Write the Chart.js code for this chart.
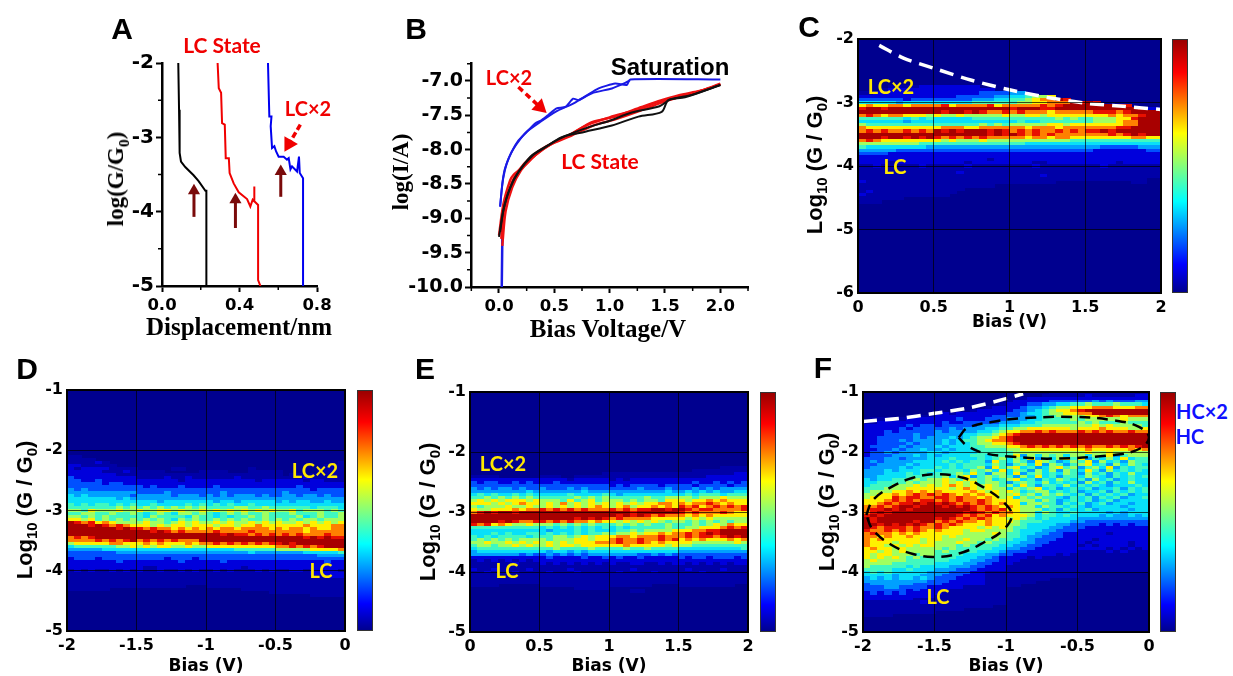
<!DOCTYPE html>
<html>
<head>
<meta charset="utf-8">
<title>Conductance panels</title>
<script src="https://cdn.jsdelivr.net/npm/chart.js@4"></script>
<style>
  html, body { margin: 0; padding: 0; background: #fff; overflow: hidden; }
  #page { position: relative; width: 1233px; height: 676px; overflow: hidden; }
  canvas { position: absolute; }
  .note { position: absolute; white-space: nowrap; line-height: 1; transform: translate(-50%, -50%); }
  .note sub { font-size: 0.68em; line-height: 0; }
  .bar { position: absolute; box-sizing: border-box; border: 1px solid #333;
         background: linear-gradient(to top, #00008f 0%, #0000ff 11%, #00ffff 36%, #ffff00 63%, #ff0000 87%, #9a0000 100%); }
</style>
</head>
<body>
<div id="page"></div>
<script>
// panel A, traces of log(G/G0) against displacement
const aBlackX = [0.084, 0.088, 0.091, 0.098, 0.12, 0.163, 0.189, 0.224, 0.229, 0.229];
const aBlackY = [-2, -2.63, -3.21, -3.325, -3.4, -3.51, -3.59, -3.72, -3.72, -5];
const aRedX = [0.287, 0.293, 0.305, 0.31, 0.324, 0.329, 0.345, 0.349, 0.37, 0.396, 0.439, 0.456, 0.468, 0.475, 0.475, 0.478, 0.496, 0.496, 0.508];
const aRedY = [-2, -2.34, -2.4, -2.81, -2.83, -3.28, -3.28, -3.48, -3.62, -3.74, -3.83, -3.93, -3.84, -3.86, -3.66, -3.86, -3.91, -4.92, -5];
const aBlueX = [0.547, 0.554, 0.565, 0.561, 0.568, 0.58, 0.589, 0.602, 0.628, 0.645, 0.654, 0.663, 0.671, 0.697, 0.707, 0.711, 0.728, 0.728];
const aBlueY = [-2, -2.72, -2.72, -2.85, -3.145, -3.12, -3.19, -3.26, -3.26, -3.3, -3.28, -3.43, -3.39, -3.46, -3.26, -3.48, -3.55, -5];
const aTicksX = [0, 0.4, 0.8];
const aTicksY = [-5, -4, -3, -2];

// panel B, I-V traces
const bBlue1X = [0.01, 0.025, 0.04, 0.07, 0.115, 0.17, 0.235, 0.326, 0.386, 0.45, 0.52, 0.6, 0.67, 0.72, 0.9, 1.05, 1.155, 1.185, 2];
const bBlue1Y = [-8.83, -8.58, -8.4, -8.2, -8.03, -7.88, -7.77, -7.62, -7.57, -7.49, -7.4, -7.38, -7.26, -7.28, -7.11, -7.04, -7.06, -6.98, -6.98];
const bBlue2X = [0.01, 0.03, 0.05, 0.09, 0.13, 0.19, 0.25, 0.37, 0.51, 0.67, 0.84, 1.02, 1.14, 1.185];
const bBlue2Y = [-8.83, -8.5, -8.3, -8.12, -7.99, -7.85, -7.74, -7.6, -7.45, -7.33, -7.18, -7.11, -7.03, -6.99];
const bBlue3X = [0.025, 0.03, 0.04];
const bBlue3Y = [-10, -9.3, -9.0];
const bBlack1X = [0, 0.04, 0.1, 0.175, 0.295, 0.416, 0.567, 0.78, 1.02, 1.26, 1.47, 1.53, 1.68, 2];
const bBlack1Y = [-9.27, -8.88, -8.56, -8.33, -8.1, -7.97, -7.82, -7.74, -7.65, -7.52, -7.45, -7.28, -7.24, -7.06];
const bBlack2X = [0.01, 0.05, 0.12, 0.2, 0.3, 0.45, 0.6, 0.8, 1.0, 1.2, 1.45, 1.55, 1.75, 2];
const bBlack2Y = [-9.2, -8.8, -8.48, -8.27, -8.08, -7.93, -7.8, -7.68, -7.58, -7.46, -7.37, -7.27, -7.2, -7.06];
const bRed1X = [0, 0.04, 0.1, 0.13, 0.235, 0.33, 0.48, 0.66, 0.84, 1.05, 1.29, 1.47, 1.62, 1.83, 2];
const bRed1Y = [-9.25, -8.79, -8.45, -8.37, -8.23, -8.08, -7.91, -7.77, -7.6, -7.52, -7.38, -7.28, -7.21, -7.14, -7.05];
const bRed2X = [0.03, 0.06, 0.12, 0.2, 0.3, 0.45, 0.65, 0.85, 1.05, 1.3, 1.5, 1.7, 1.9, 2];
const bRed2Y = [-9.4, -8.9, -8.55, -8.3, -8.12, -7.94, -7.8, -7.65, -7.56, -7.42, -7.3, -7.2, -7.11, -7.05];
const bRed3X = [0.02, 0.05, 0.11, 0.18, 0.28, 0.42, 0.6, 0.8, 1.0, 1.25, 1.45, 1.65, 1.85, 2];
const bRed3Y = [-9.3, -8.85, -8.5, -8.3, -8.12, -7.96, -7.82, -7.64, -7.53, -7.42, -7.3, -7.23, -7.13, -7.04];
const bTicksX = [0, 0.5, 1, 1.5, 2];
const bMinorX = [-0.25, 0.25, 0.75, 1.25, 1.75, 2.25];
const bTicksY = [-10, -9.5, -9, -8.5, -8, -7.5, -7];
const bMinorY = [-9.75, -9.25, -8.75, -8.25, -7.75, -7.25, -6.75];

// limit lines and circled regions on the maps
const cLimitX = [0.14, 0.3, 0.5, 0.75, 1, 1.25, 1.5, 1.75, 2];
const cLimitY = [-2.1, -2.3, -2.46, -2.65, -2.8, -2.92, -3.01, -3.06, -3.11];
const fLimitX = [-2, -1.75, -1.51, -1.25, -1, -0.88];
const fLimitY = [-1.49, -1.44, -1.36, -1.26, -1.11, -1.03];
const fLowX = [-1.977, -1.93, -1.8, -1.65, -1.49, -1.3, -1.15, -1.02, -0.96, -1.02, -1.15, -1.3, -1.49, -1.65, -1.8, -1.93, -1.977];
const fLowY = [-3.05, -2.8, -2.58, -2.43, -2.37, -2.43, -2.6, -2.83, -3.05, -3.3, -3.5, -3.67, -3.75, -3.7, -3.55, -3.3, -3.05];
const fHighX = [-1.331, -1.27, -1.1, -0.9, -0.53, -0.25, -0.07, 0, -0.07, -0.25, -0.67, -0.95, -1.15, -1.27, -1.331];
const fHighY = [-1.76, -1.6, -1.5, -1.44, -1.415, -1.47, -1.58, -1.76, -1.95, -2.05, -2.11, -2.08, -2.02, -1.9, -1.76];

// map rows, read by eye: each row is 0.05 decades, each column 0.05 V
const levels = { "0": null, ".": "#0000a8", "1": "#0000dc", "2": "#0050ff", "3": "#00a0ff", "4": "#08e0f8",
  "5": "#40f8c0", "6": "#a0ff60", "7": "#fff000", "8": "#ff8000", "r": "#e81000", "9": "#a80000" };

const cTop = -2.75;
const cRows = [
"0000....11 1111110000 0000000000 0000000000",
"000.111111 1111111100 0000000000 0000000000",
"..11111111 1111112222 3300000000 0000000000",
"1111111111 1112222233 4456670000 0000000000",
"2222221222 2222233344 5567889r00 0000000000",
"4444434444 4444455555 566778889r 9r00000000",
"7877887888 8r78888r78 8888r8r999 9999rr0000",
"r99r999999 9999999999 r999rr9999 9999999r11",
"9999999999 9r99r9r88r 8r88878888 8rrr8r9999",
"8r87887776 7667666667 6677677777 7778788r99",
"5555554545 4444455555 5555556565 566677r999",
"4444443444 4444444444 4544555555 5666788999",
"6555555555 5555556565 6666677677 7777788999",
"8777777777 7888778888 8878887888 8888rr9999",
"8r8r88r8r8 9r9r999r9r 8r8r88r8r8 rr9r999999",
"9999999999 9999999r9r 9r8r8r8888 888r8r9r99",
"999r99r9r9 r8r8r8r888 8878878877 7777778877",
"8r87777777 7676667666 6666666655 5555555555",
"6666666655 5555555555 5544444444 4444444444",
"5444444443 3333333333 3333333333 3322222333",
"3333322222 2222222222 2222222222 2111111122",
"2222111111 1111111111 1111111111 1111111111",
"1111111111 1111111111 1111111111 1111111111",
"1111111111 1111111.11 1111111111 1111111111",
"1111.11111 1111.11111 111..11111 1111.11111",
"..1.....1. ....1..... ...1...... ..1.......",
".......... .......... .......... ..........",
".......... ...1...... .......... ..........",
".......... .......... ....1..... ..........",
".......... .......... .......... ........00",
"1......... .......... ......0000 000000..00",
".......... ........00 0000000000 0000000000",
".......... ....000000 0000000000 0000000000",
".1........ ...0000000 0000000000 0000000000",
"1......... ..00000000 0000000000 0000000000",
"......0000 0000000000 0000000000 0000000000",
"...0000000 0000000000 0000000000 0000000000"
];

const dTop = -2.1;
const dRows = [
"..00000000 0000000000 0000000000 0000000000",
"....000000 0000000000 0000000000 0000000000",
"....1.0000 0000000000 0000000000 000000000.",
"11.....000 0000000000 0000000000 0000000...",
"1.1111.... 00000..000 000000.000 000000....",
"11111...1. ....00000. ...000.... .00000....",
"1111111... .......... .......... .0..0.....",
"2111111111 ....1..1.. ....1..... ....1.....",
"2211211111 111111.111 1111111.11 1111.11...",
"2222212211 1111111111 1111111111 1111111111",
"2222222222 2121112111 1211111111 1112111111",
"3232222222 2222222222 2222222222 2222212222",
"3333333333 2222322222 2232222222 2322222222",
"4343333332 3333323332 3232333232 2332332322",
"4444444343 3333333333 3333333333 3333333333",
"4444444444 4443444444 4344344444 3434433433",
"5454554545 4454444545 4545445444 4444444444",
"5555555656 5656565656 5555665565 5555545554",
"6657666766 7667767667 6767676767 6675666565",
"5566556556 5456546656 5456565565 5565556556",
"6656565555 5465555465 5454556565 5556456556",
"7767565656 5656546565 5656565565 6565665666",
"9r8r787666 6766567676 6767667676 7667676767",
"999r9r8r87 7767677677 7677677877 7777877788",
"9999999r9r r8r8878787 8788788887 8788787788",
"9999999999 99r9r8r888 8r8888r888 8888788888",
"9999999999 9999999999 99r9rr8r8r 8r8r888r88",
"8r8r999999 9999999999 9999999999 9999r9r9rr",
"8888r8r8r9 8r8r8r8889 9999999999 9999999999",
"6777778877 7878777878 8r8r8r8r8r r9r9999999",
"4555555667 6767766766 7777777777 88r8r8r999",
"3333344444 4444444444 4444555555 6666677778",
"2222222333 3333333333 3333334333 3333444445",
"2222222222 2222222222 2222222222 2222223333",
"1222122222 2222122212 2222222222 2222222222",
"1111111211 1111112111 1121111111 1111111211",
"1111111111 1111111111 1111111111 1111111111",
"1111111111 1..1111111 11111.1111 1111111111",
".1.1..1.1. 1..1..1.1. .1.1...1.1 ..11.1111.",
".......... .......... .......... .....11111",
".......... .......... .......... .......111",
".......... .......... .......... ..........",
".......... .......... .......... ..........",
".......... .......000 .......... ..........",
"......0000 0000000000 00000..... ..........",
"0000000000 0000000000 000000000. ..........",
"0000000000 0000000000 0000000000 00000....."
];

const eTop = -2.25;
const eRows = [
"0000000000 0000000000 0000000000 000000....",
"0000000000 0000000000 0000000000 00........",
"0000000000 000000000. .......... ........11",
"....000000 ...00..... .......... ....111111",
"1111111111 1111.11111 .1.1111111 1111111111",
"2122112121 1121111111 1111111111 1121121212",
"2222222222 2222222222 1212222122 2212222122",
"3232332322 3222323222 2222322232 2232323333",
"3333333343 3333334333 3333333343 3434343344",
"4545445454 4444544445 4344444444 4545554555",
"5565656565 5555565656 5555565566 6656667666",
"6767677767 6665756756 6656566577 7677878777",
"7776767877 6768676767 6767677887 8788r87877",
"6566676676 6767676787 6786778787 r8r78r8r8r",
"7667778788 r8r8r8r888 r8r8rr99r9 9r8rr8888r",
"8r9r99r999 9999999999 999r999999 r8r888r877",
"9999999999 9999999999 9r9r9r8r88 8787877777",
"9999999999 99999r9r9r 8r88887777 7676766666",
"9999r9r88r r8r8r88787 7676767656 6565656566",
"r8r7876676 6656565655 5656565565 5565676877",
"5555555555 4545454545 4545555565 5667778r8r",
"4444444444 4344454544 4556566667 7788rr9999",
"4445454455 4545454556 5667677878 8r8r9r9999",
"5454555545 5566567677 7887888r88 8r8rr8r9r9",
"5656565666 6566677677 8r88r88r8r 7878777878",
"6676676767 6767677788 8r88r87877 7766666676",
"5665667676 6767767777 7787777767 6655555555",
"4555555555 5565555655 5565565555 4444444445",
"3444444444 4344343444 4444444444 3333333333",
"3333333232 2323232333 3333223232 2222222222",
"1111111111 1211112112 1211211111 2122122212",
".1.1.1.1.1 1111111111 1111111111 1111111111",
"......1... 1.1.1.1.1. 1..11..1.1 1.1.1.1.11",
".......... .......... .......... ..........",
"1..1....1. ....1..... ...1...... .1....1...",
"..1...1... .1...1.... .1....1... ...1......",
".......... .......... .......... ..........",
".......... .......... .......... ..........",
".......... .......... .......... ..........",
"....000000 .......... ......0000 ........00",
"0000000000 00000..... 0000000000 0000000000",
"0000000000 0000000000 000..00000 0000000000"
];

const fTop = -1.0;
const fRows = [
"0000000000 0000000000 000000.... ..........",
"0000000000 0000000000 00000..... .1......11",
"0000000000 0000000000 00.1111111 1111111111",
"0000000000 0000000000 .111112222 2232322233",
"0000000000 000000000. 1112233445 5655565554",
"0000000000 0000000.11 1123345667 7788877788",
"0000000000 00000.1111 1223456778 r999999999",
"0000000000 .1.1111111 2234456677 8899999999",
"000000.... 1111111122 2233455666 6778r87888",
"0.....1111 1112111222 3334455556 5666667666",
"..11111111 1211222223 3344555555 6565556555",
"1111112122 1222223334 4455566666 6676766665",
"1111121222 2232333445 5667777776 7778777667",
"1112122222 3233334456 7788r8r888 r8r8r88r88",
"1112222322 3333445567 8r99999999 9999999999",
"1122222323 3343456678 r999999999 9999999999",
"1122232333 3434556788 r999999999 9999999999",
"1122223233 3434456677 8r99999999 9999999999",
"1222232333 4344455666 778r8r8r8r 8r88r8r8r9",
"1122323343 3434445555 6677777777 7877777878",
"1223233334 4344445555 5666666666 6766766666",
"1222333434 3444455455 5736465646 6466735666",
"2223323334 4454445456 4647354675 7354647455",
"2323333444 4545455375 4653765346 5736453655",
"2233334344 4454555465 3564736535 6745364654",
"2333343444 5454556375 6745346756 3564735455",
"3334344455 4555465647 4653646365 4753645454",
"3334445454 5556575366 4735645465 3645354644",
"3344445555 5646735656 5364745355 4654354545",
"4344555656 6765765645 6745354654 5364534544",
"4455556566 6767675665 3565464545 3645354644",
"4555666767 6787676765 6475355464 5454344454",
"5556667777 7767876766 4656745345 4534453545",
"5666778787 8777787676 7645664545 3445354545",
"6677878r8r 8r87878776 6756465654 5354545344",
"6777r8rr88 rr8r887876 7465655435 4535453445",
"7778r8r8rr 8r8r88r877 7766465345 4534534444",
"778r8rr9r9 r9r8r8r878 7746655354 5345344344",
"88r8r99r99 9r9r9r8r87 8766465545 4344443444",
"8rr9r9r999 99999r8r8r 7766645354 4534444344",
"8r9r999999 9999r9r8r8 8766465445 4444343444",
"r9r9999999 999r8r8r78 7776455454 4443433434",
"9r99999999 r9r8r8r877 6765454444 3333333333",
"9r99999r99 8r8r887877 7655544443 3222222222",
"99r9r9r9r8 r8r8777877 6654444332 2221212122",
"9r8rrr8r88 r877776767 6554443322 2111111111",
"r88r8r8r87 8777677666 6544433222 1111111111",
"8r88787877 7777666676 5544332211 1111.11111",
"8878778777 7676666666 5543322211 1111111111",
"8787777767 7666766565 5443222111 11.1111111",
"8777677767 6667665655 4433221111 1.11111.11",
"8776767677 6665655554 4332211111 .1.1111.11",
"7877676666 6565555544 3322111111 1111.1.1.1",
"7767676666 5655554443 2221111111 ....1.1...",
"7677666566 5555444332 2111111.1. ..........",
"7676765655 5554443321 111.1..... ..........",
"6766665555 5544433221 11........ ..........",
"6666555555 4444332211 1......... ..........",
"6555554544 4433322111 .......... ..........",
"5555445444 3332221111 .......... ..........",
"4545444443 3322211... .......... 0000000000",
"4444344433 3222111... .......... 0000000000",
"3434344343 2221111... ......0000 0000000000",
"3333333332 2211111... ....000000 0000000000",
"2333333222 2111111... ..00000000 0000000000",
"2223322221 1111...... 0000000000 0000000000",
"2222221211 11........ 0000000000 0000000000",
"1212121111 1......... 0000000000 0000000000",
"1111111111 .......... 0000000000 0000000000",
"1111111... .......... 0000000000 0000000000",
"........1. .......... 0000000000 0000000000",
".......... ........00 0000000000 0000000000",
".......... ....000000 0000000000 0000000000",
".......... 0000000000 0000000000 0000000000",
"....000000 0000000000 0000000000 0000000000"
];

const posBias = [0, 0.5, 1, 1.5, 2];
const negBias = [-2, -1.5, -1, -0.5, 0];
const logRangeC = [-6, -5, -4, -3, -2];
const logRangeDEF = [-5, -4, -3, -2, -1];

const tickFamily = '"DejaVu Sans", sans-serif';
Chart.defaults.font.family = tickFamily;
const page = document.getElementById("page");
const ML = 70, MT = 24, MR = 24, MB = 52;

function pairs(xs, ys) {
  return xs.map(function (x, i) { return { x: x, y: ys[i] }; });
}

function trace(xs, ys, color, width, tension) {
  return { data: pairs(xs, ys), showLine: true, borderColor: color, borderWidth: width, pointRadius: 0, tension: tension || 0 };
}

function arrow(xs, ys, color, size, angle, dash, width) {
  return {
    data: pairs(xs, ys), showLine: true, borderColor: color, backgroundColor: color, borderWidth: width || 3,
    borderDash: dash || [], pointStyle: "triangle", pointBorderWidth: 0,
    pointRadius: [0, size], pointRotation: [0, angle]
  };
}

function addNote(html, x, y, font, color, turned) {
  const el = document.createElement("div");
  el.className = "note";
  el.innerHTML = html;
  el.style.left = x + "px";
  el.style.top = y + "px";
  el.style.font = font;
  el.style.color = color;
  if (turned) el.style.transform = "translate(-50%, -50%) rotate(-90deg)";
  page.appendChild(el);
}

function addCanvas(box) {
  const c = document.createElement("canvas");
  c.width = box.r - box.l + ML + MR;
  c.height = box.b - box.t + MT + MB;
  c.style.left = (box.l - ML) + "px";
  c.style.top = (box.t - MT) + "px";
  page.appendChild(c);
  return c;
}

function xTitle(text, font, below) {
  const lineHeight = font.size * 1.2;
  return { display: true, text: text, color: "#000", font: font,
    padding: { top: 0, bottom: MB - below - lineHeight / 2 } };
}

// small ticks between the labelled ones, placed through the scales
const minorTicks = {
  id: "minorTicks",
  afterDraw: function (chart, args, opts) {
    const c = chart.ctx, a = chart.chartArea;
    c.save();
    c.strokeStyle = "#000";
    c.lineWidth = 1.5;
    c.beginPath();
    (opts.x || []).forEach(function (v) {
      const p = chart.scales.x.getPixelForValue(v);
      c.moveTo(p, a.bottom);
      c.lineTo(p, a.bottom + 4);
    });
    (opts.y || []).forEach(function (v) {
      const p = chart.scales.y.getPixelForValue(v);
      c.moveTo(a.left, p);
      c.lineTo(a.left - 4, p);
    });
    c.stroke();
    c.restore();
  }
};

function lineChart(box, o) {
  const axis = function (min, max, ticks, pad, size, fmt, afterFit) {
    return {
      type: "linear", min: min, max: max,
      afterBuildTicks: function (s) { s.ticks = ticks.map(function (v) { return { value: v }; }); },
      afterFit: afterFit,
      border: { color: "#000", width: 2.5 },
      grid: { drawOnChartArea: false, tickLength: 6, tickWidth: 2, tickColor: "#000" },
      ticks: { autoSkip: false, maxRotation: 0, padding: pad, color: "#000", callback: fmt,
        font: { size: size, weight: "bold" } }
    };
  };
  const xAxis = axis(o.xMin, o.xMax, o.xTicks, 4, 16.5, function (v) { return v.toFixed(1); }, function (s) { s.height = MB; });
  const yAxis = axis(o.yMin, o.yMax, o.yTicks, 2, o.ySize, o.fmt, function (s) { s.width = ML; });
  return new Chart(addCanvas(box), {
    type: "scatter",
    data: { datasets: o.datasets },
    plugins: [minorTicks],
    options: {
      responsive: false, animation: false,
      layout: { padding: { top: MT, right: MR } },
      plugins: { legend: { display: false }, tooltip: { enabled: false }, minorTicks: { x: o.xMinor, y: o.yMinor } },
      scales: { x: xAxis, y: yAxis }
    }
  });
}

// map cells: positions come from the x and y scales, 1px overlap hides seams
const heatCells = {
  id: "heatCells",
  beforeDatasetsDraw: function (chart) {
    const c = chart.ctx, sx = chart.scales.x, sy = chart.scales.y, a = chart.chartArea;
    c.fillStyle = "#00008f";
    c.fillRect(a.left, a.top, a.width, a.height);
    c.save();
    c.beginPath();
    c.rect(a.left, a.top, a.width, a.height);
    c.clip();
    chart.data.datasets[0].data.forEach(function (d) {
      const xa = Math.round(sx.getPixelForValue(d.x)), xb = Math.round(sx.getPixelForValue(d.x + 0.05));
      const ya = Math.round(sy.getPixelForValue(d.y + 0.025)), yb = Math.round(sy.getPixelForValue(d.y - 0.025));
      c.fillStyle = levels[d.k];
      c.fillRect(xa, ya, xb - xa + 1, yb - ya + 1);
    });
    c.restore();
  },
  afterDraw: function (chart) {
    const c = chart.ctx, a = chart.chartArea;
    c.save();
    c.strokeStyle = "#000";
    c.lineWidth = 2;
    c.strokeRect(a.left, a.top, a.width, a.height);
    c.restore();
  }
};

function cellsFrom(rows, xStart, top) {
  const out = [];
  rows.forEach(function (row, r) {
    row.replace(/ /g, "").split("").forEach(function (k, col) {
      if (levels[k]) out.push({ x: xStart + col * 0.05, y: top - r * 0.05, k: k });
    });
  });
  return out;
}

function heatChart(box, o) {
  const label = { color: "#000", font: { size: 16, weight: "bold" } };
  const grid = { color: "rgba(0,0,0,0.7)", lineWidth: 1, z: 1, drawTicks: false };
  const setTicks = function (list) {
    return function (s) { s.ticks = list.map(function (v) { return { value: v }; }); };
  };
  const sets = [{ data: cellsFrom(o.rows, o.xTicks[0], o.top), pointRadius: 0 }].concat(o.lines || []);
  new Chart(addCanvas(box), {
    type: "scatter",
    data: { datasets: sets },
    plugins: [heatCells],
    options: {
      responsive: false, animation: false,
      layout: { padding: { top: MT, right: MR } },
      plugins: { legend: { display: false }, tooltip: { enabled: false } },
      scales: {
        x: {
          type: "linear", min: o.xTicks[0], max: o.xTicks[4], afterBuildTicks: setTicks(o.xTicks),
          afterFit: function (s) { s.height = MB; },
          grid: grid, border: { display: false },
          ticks: Object.assign({ autoSkip: false, maxRotation: 0, padding: 5, callback: String }, label),
          title: xTitle("Bias (V)", { size: 17, weight: "bold" }, o.below)
        },
        y: {
          type: "linear", min: o.yTicks[0], max: o.yTicks[4], afterBuildTicks: setTicks(o.yTicks),
          afterFit: function (s) { s.width = ML; },
          grid: grid, border: { display: false },
          ticks: Object.assign({ autoSkip: false, padding: 4, callback: String }, label)
        }
      }
    }
  });
  const bar = document.createElement("div");
  bar.className = "bar";
  bar.style.left = o.barX + "px";
  bar.style.top = box.t + "px";
  bar.style.width = "16px";
  bar.style.height = (box.b - box.t) + "px";
  page.appendChild(bar);
}

function whiteDash(xs, ys) {
  return Object.assign(trace(xs, ys, "#fff", 3.5), { borderDash: [14, 8], tension: 0.3 });
}

function blackDash(xs, ys) {
  return Object.assign(trace(xs, ys, "#000", 2.5), { borderDash: [11, 7], tension: 0.4 });
}

lineChart({ l: 162, t: 63, r: 317, b: 286 }, {
  xMin: 0, xMax: 0.8, yMin: -5, yMax: -2, xTicks: aTicksX, yTicks: aTicksY,
  xMinor: [0.2, 0.6], yMinor: [-4.5, -3.5, -2.5], ySize: 20,
  fmt: String,
  datasets: [
    trace(aBlackX, aBlackY, "#000", 2),
    trace(aRedX, aRedY, "#f00000", 2),
    trace(aBlueX, aBlueY, "#0000f0", 2),
    arrow([0.165, 0.165], [-4.07, -3.72], "#7a0a0a", 7, 0),
    arrow([0.379, 0.379], [-4.22, -3.84], "#7a0a0a", 7, 0),
    arrow([0.613, 0.613], [-3.8, -3.46], "#7a0a0a", 7, 0),
    arrow([0.714, 0.655], [-2.83, -3.09], "#f00000", 9, 210, [6, 3], 3.5)
  ]
});

lineChart({ l: 471, t: 63, r: 748, b: 287 }, {
  xMin: -0.253, xMax: 2.25, yMin: -10, yMax: -6.74, xTicks: bTicksX, yTicks: bTicksY,
  xMinor: bMinorX, yMinor: bMinorY, ySize: 19,
  fmt: function (v) { return v.toFixed(1); },
  datasets: [
    trace(bBlack1X, bBlack1Y, "#111", 2, 0.3),
    trace(bBlack2X, bBlack2Y, "#111", 2, 0.3),
    trace(bRed1X, bRed1Y, "#ee1111", 2.4, 0.3),
    trace(bRed2X, bRed2Y, "#ee1111", 2.4, 0.3),
    trace(bRed3X, bRed3Y, "#ee1111", 2.4, 0.3),
    trace(bBlue1X, bBlue1Y, "#1a1ae6", 2, 0.2),
    trace(bBlue2X, bBlue2Y, "#1a1ae6", 2, 0.2),
    trace(bBlue3X, bBlue3Y, "#1a1ae6", 2.5),
    arrow([0.175, 0.37], [-7.09, -7.38], "#f00000", 9, 132, [6, 4], 3.5)
  ]
});

heatChart({ l: 858, t: 39, r: 1161, b: 293 }, {
  rows: cRows, top: cTop, xTicks: posBias, yTicks: logRangeC, below: 30, barX: 1172,
  lines: [whiteDash(cLimitX, cLimitY)]
});
heatChart({ l: 67, t: 390, r: 345, b: 631 }, {
  rows: dRows, top: dTop, xTicks: negBias, yTicks: logRangeDEF, below: 36, barX: 357
});
heatChart({ l: 470, t: 392, r: 748, b: 632 }, {
  rows: eRows, top: eTop, xTicks: posBias, yTicks: logRangeDEF, below: 35, barX: 760
});
heatChart({ l: 863, t: 392, r: 1149, b: 632 }, {
  rows: fRows, top: fTop, xTicks: negBias, yTicks: logRangeDEF, below: 35, barX: 1160,
  lines: [whiteDash(fLimitX, fLimitY), blackDash(fLowX, fLowY), blackDash(fHighX, fHighY)]
});

const sans = '"Liberation Sans", Arial, sans-serif';
const serif = '"Liberation Serif", serif';
const lato = 'Lato, sans-serif';

[["A", 122, 29], ["B", 416, 29], ["C", 809, 27], ["D", 27, 369], ["E", 425, 369], ["F", 823, 368]].forEach(function (p) {
  addNote(p[0], p[1], p[2], "bold 30px " + sans, "#000");
});

addNote("log(G/G<sub>0</sub>)", 116, 179, "bold 23px " + serif, "#000", true);
addNote("log(I/A)", 401, 172, "bold 23px " + serif, "#000", true);
addNote("Displacement/nm", 239, 327, "bold 25px " + serif, "#000");
addNote("Bias Voltage/V", 608, 329, "bold 25px " + serif, "#000");
const logTitle = "Log<sub>10</sub> (G / G<sub>0</sub>)";
addNote(logTitle, 815, 165, "bold 22px " + sans, "#000", true);
addNote(logTitle, 25, 510, "bold 22px " + sans, "#000", true);
addNote(logTitle, 428, 512, "bold 22px " + sans, "#000", true);
addNote(logTitle, 827, 502, "bold 22px " + sans, "#000", true);

addNote("LC State", 222, 44, "bold 21px " + lato, "#f00000");
addNote("LC×2", 308, 108, "bold 20px " + lato, "#f00000");
addNote("Saturation", 670, 67, "bold 24px " + sans, "#000");
addNote("LC×2", 509, 77, "bold 20px " + lato, "#f00000");
addNote("LC State", 600, 160, "bold 21px " + lato, "#f00000");

const yellow = "#ffe800";
addNote("LC×2", 891, 86, "bold 20px " + lato, yellow);
addNote("LC", 895, 166, "bold 20px " + lato, yellow);
addNote("LC×2", 315, 470, "bold 20px " + lato, yellow);
addNote("LC", 321, 570, "bold 20px " + lato, yellow);
addNote("LC×2", 503, 463, "bold 20px " + lato, yellow);
addNote("LC", 507, 570, "bold 20px " + lato, yellow);
addNote("LC", 938, 596, "bold 20px " + lato, yellow);
addNote("HC×2", 1202, 411, "bold 20px " + lato, "#1010ff");
addNote("HC", 1190, 436, "bold 20px " + lato, "#1010ff");
</script>
</body>
</html>
